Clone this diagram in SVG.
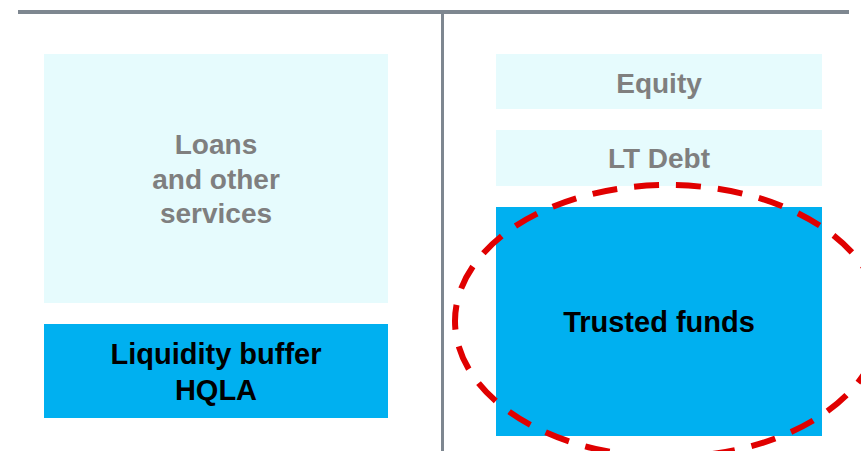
<svg xmlns="http://www.w3.org/2000/svg" width="861" height="451" viewBox="0 0 861 451">
  <style>
    .pale { fill: #e6fbfd; }
    .solid { fill: #00b0f0; }
    .rule { stroke: #7e8790; fill: none; }
    .lbl { font-family: "Liberation Sans", Arial, sans-serif; font-weight: bold; text-anchor: middle; }
    .grey { fill: #7f7f7f; font-size: 28px; }
    .dark { fill: #000000; font-size: 29px; }
    .ring { fill: none; stroke: #e00000; stroke-width: 6; stroke-dasharray: 25 17; }
  </style>
  <rect width="861" height="451" fill="#ffffff"/>

  <!-- T-account frame -->
  <g id="frame">
    <line class="rule" x1="18" y1="12" x2="849" y2="12" stroke-width="4"/>
    <line class="rule" x1="442.5" y1="12" x2="442.5" y2="451" stroke-width="3"/>
  </g>

  <!-- assets side -->
  <g id="loans">
    <rect class="pale" x="44" y="54" width="344" height="249"/>
    <text class="lbl grey" x="216" y="154">Loans</text>
    <text class="lbl grey" x="216" y="189">and other</text>
    <text class="lbl grey" x="216" y="223">services</text>
  </g>
  <g id="liquidity">
    <rect class="solid" x="44" y="324" width="344" height="94"/>
    <text class="lbl dark" x="216" y="364">Liquidity buffer</text>
    <text class="lbl dark" x="216" y="400">HQLA</text>
  </g>

  <!-- liabilities side -->
  <g id="equity">
    <rect class="pale" x="496" y="54" width="326" height="55"/>
    <text class="lbl grey" x="659" y="93">Equity</text>
  </g>
  <g id="ltdebt">
    <rect class="pale" x="496" y="130" width="326" height="56"/>
    <text class="lbl grey" x="659" y="168">LT Debt</text>
  </g>
  <g id="trusted">
    <rect class="solid" x="496" y="207" width="326" height="229"/>
    <text class="lbl dark" x="659" y="332">Trusted funds</text>
  </g>

  <!-- highlight ring -->
  <g id="highlight">
    <ellipse class="ring" cx="668" cy="321" rx="213" ry="136"/>
  </g>
</svg>
